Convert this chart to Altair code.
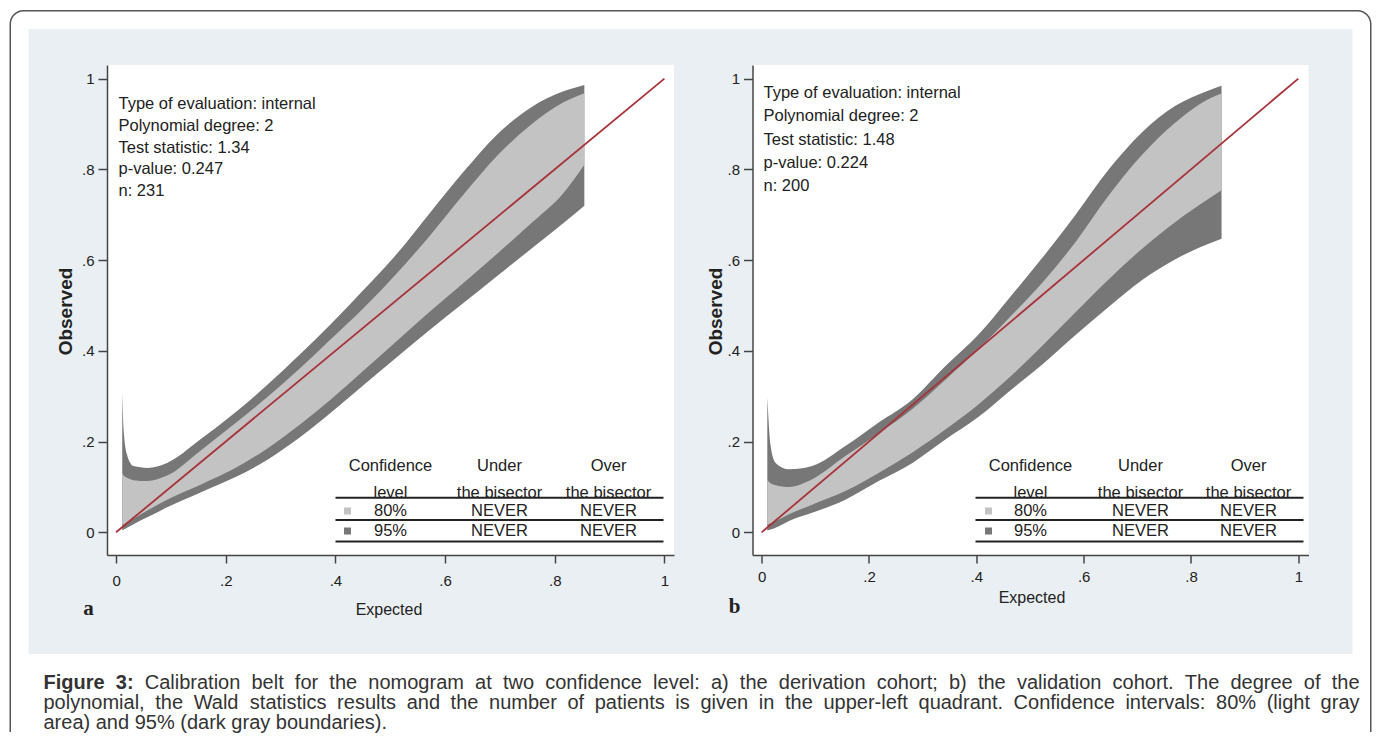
import altair as alt
import pandas as pd

# ---------------------------------------------------------------- data
# panel a (derivation cohort): calibration belt edges
X_A = [0.0113, 0.014, 0.020, 0.032, 0.057, 0.093, 0.154, 0.215, 0.276, 0.336,
       0.391, 0.452, 0.513, 0.573, 0.634, 0.695, 0.756, 0.816, 0.854]
U95_A = [0.307, 0.223, 0.171, 0.146, 0.142, 0.153, 0.205, 0.262, 0.325, 0.393,
         0.458, 0.535, 0.615, 0.705, 0.795, 0.877, 0.936, 0.972, 0.986]
U80_A = [0.130, 0.125, 0.120, 0.115, 0.113, 0.125, 0.180, 0.238, 0.298, 0.362,
         0.425, 0.495, 0.572, 0.655, 0.745, 0.830, 0.898, 0.948, 0.968]
L80_A = [0.017, 0.018, 0.022, 0.030, 0.048, 0.072, 0.105, 0.140, 0.185, 0.238,
         0.292, 0.357, 0.423, 0.487, 0.550, 0.614, 0.680, 0.748, 0.810]
L95_A = [0.004, 0.006, 0.010, 0.018, 0.033, 0.055, 0.088, 0.120, 0.160, 0.210,
         0.263, 0.325, 0.387, 0.447, 0.506, 0.565, 0.624, 0.682, 0.720]

# panel b (validation cohort)
X_B = [0.0106, 0.0168, 0.026, 0.051, 0.094, 0.156, 0.218, 0.281, 0.343, 0.405,
       0.4605, 0.523, 0.585, 0.647, 0.709, 0.771, 0.833, 0.857]
U95_B = [0.297, 0.190, 0.153, 0.139, 0.146, 0.190, 0.242, 0.293, 0.367, 0.437,
         0.515, 0.605, 0.700, 0.800, 0.882, 0.940, 0.974, 0.984]
U80_B = [0.115, 0.108, 0.104, 0.100, 0.117, 0.168, 0.218, 0.272, 0.337, 0.405,
         0.472, 0.550, 0.640, 0.743, 0.832, 0.903, 0.955, 0.967]
L80_B = [0.017, 0.020, 0.025, 0.040, 0.061, 0.091, 0.131, 0.176, 0.227, 0.283,
         0.340, 0.411, 0.485, 0.558, 0.625, 0.684, 0.735, 0.754]
L95_B = [0.004, 0.006, 0.010, 0.025, 0.043, 0.072, 0.113, 0.153, 0.205, 0.255,
         0.310, 0.370, 0.435, 0.497, 0.556, 0.602, 0.636, 0.647]

DIAG_X = [0.0, 1.0]
DIAG_Y = [0.0, 1.0]

TICK_VALUES = [0, 0.2, 0.4, 0.6, 0.8, 1]
TICK_LABELS = ["0", ".2", ".4", ".6", ".8", "1"]

STATS_A = ["Type of evaluation: internal", "Polynomial degree: 2",
           "Test statistic: 1.34", "p-value: 0.247", "n: 231"]
STATS_B = ["Type of evaluation: internal", "Polynomial degree: 2",
           "Test statistic: 1.48", "p-value: 0.224", "n: 200"]

TABLE_HEAD = [["Confidence", "Under", "Over"],
              ["level", "the bisector", "the bisector"]]
TABLE_ROWS = [["80%", "NEVER", "NEVER"],
              ["95%", "NEVER", "NEVER"]]

PANEL_LETTERS = ["a", "b"]
X_TITLE = "Expected"
Y_TITLE = "Observed"

CAPTION_BOLD = "Figure 3:"
CAPTION_LINES = [
    "Calibration belt for the nomogram at two confidence level: a) the derivation cohort; b) the validation cohort. The degree of the",
    "polynomial, the Wald statistics results and the number of patients is given in the upper-left quadrant. Confidence intervals: 80% (light gray",
    "area) and 95% (dark gray boundaries).",
]

# ---------------------------------------------------------------- style
SANS = "Liberation Sans"
SERIF = "Liberation Serif"
LIGHT = "#c3c3c3"
DARK = "#777777"
RED = "#a8323a"
INK = "#222222"
PAGE_BG = "#e9eff2"
YDOM = [-0.05, 1.03]
PLOT_H = 490

# Arial / Liberation Sans advance widths (1/1000 em) for justified caption
REG = dict(zip(" !%(),-.:;", [278, 278, 889, 333, 333, 278, 333, 278, 278, 278]))
REG.update({d: 556 for d in "0123456789"})
REG.update(dict(zip("ABCDEFGHIJKLMNOPQRSTUVWXYZ",
                    [667, 667, 722, 722, 667, 611, 778, 722, 278, 500, 667, 556, 833,
                     722, 778, 667, 778, 722, 667, 611, 722, 667, 944, 667, 667, 611])))
REG.update(dict(zip("abcdefghijklmnopqrstuvwxyz",
                    [556, 556, 500, 556, 556, 278, 556, 556, 222, 222, 500, 222, 833,
                     556, 556, 556, 556, 333, 500, 278, 556, 500, 722, 500, 500, 500])))
BOLD = {"F": 611, "i": 278, "g": 611, "u": 611, "r": 389, "e": 556, "3": 556, ":": 333, " ": 278}

ONE = pd.DataFrame({"k": [0]})


def label_expr():
    parts = [f"datum.value == {v} ? '{l}'" for v, l in zip(TICK_VALUES, TICK_LABELS)]
    return " : ".join(parts) + " : ''"


def rect(x, x2, y, y2, color, **kw):
    return alt.Chart(ONE).mark_rect(color=color, **kw).encode(
        x=alt.value(x), x2=alt.value(x2), y=alt.value(y), y2=alt.value(y2))


def make_panel(p):
    xs = alt.Scale(domain=p["xdom"], nice=False, zero=False)
    ys = alt.Scale(domain=YDOM, nice=False, zero=False)
    ax_x = alt.Axis(values=TICK_VALUES, labelExpr=label_expr(), grid=False, zindex=2,
                    domainColor="#444", domainWidth=1.5, tickColor="#444", tickWidth=1.5,
                    tickSize=8, labelPadding=p["xlabpad"], labelFont=SANS, labelFontSize=15,
                    labelColor=INK, labelFlush=False, title=X_TITLE, titleFont=SANS,
                    titleFontSize=16, titleFontWeight="normal", titleColor=INK,
                    titleX=p["xtitle"][0], titleY=p["xtitle"][1], titleAlign="center",
                    titleBaseline="middle")
    ax_y = alt.Axis(values=TICK_VALUES, labelExpr=label_expr(), grid=False, zindex=2,
                    domainColor="#444", domainWidth=1.5, tickColor="#444", tickWidth=1.5,
                    tickSize=9, labelPadding=4, labelFont=SANS, labelFontSize=15,
                    labelColor=INK, labelAngle=0, labelFlush=False, title=Y_TITLE,
                    titleFont=SANS, titleFontSize=19, titleFontWeight="bold",
                    titleColor=INK, titleAngle=270, titleX=p["ytitle"][0],
                    titleY=p["ytitle"][1], titleAlign="center", titleBaseline="middle")

    band = pd.DataFrame({"x": p["x"], "l95": p["l95"], "u95": p["u95"],
                         "l80": p["l80"], "u80": p["u80"]})
    diag = pd.DataFrame({"x": DIAG_X, "y": DIAG_Y})

    base = alt.Chart(band)
    a95 = base.mark_area(color=DARK, interpolate="monotone", opacity=1).encode(
        x=alt.X("x:Q", scale=xs, axis=ax_x),
        y=alt.Y("l95:Q", scale=ys, axis=ax_y), y2="u95:Q")
    a80 = base.mark_area(color=LIGHT, interpolate="monotone", opacity=1).encode(
        x=alt.X("x:Q", scale=xs, axis=ax_x),
        y=alt.Y("l80:Q", scale=ys, axis=ax_y), y2="u80:Q")
    line = alt.Chart(diag).mark_line(color=RED, strokeWidth=1.8).encode(
        x=alt.X("x:Q", scale=xs, axis=ax_x),
        y=alt.Y("y:Q", scale=ys, axis=ax_y))

    # stats text in the upper-left corner
    sdf = pd.DataFrame({"t": p["stats"],
                        "py": [p["stat_y"][0] + i * p["stat_y"][1] for i in range(len(p["stats"]))]})
    stats = alt.Chart(sdf).mark_text(align="left", baseline="middle", font=SANS,
                                     fontSize=16.5, color=INK).encode(
        x=alt.value(p["stat_x"]), y=alt.Y("py:Q", scale=None, axis=None), text="t:N")

    # legend table
    cols, ry = p["cols"], p["rows_y"]
    trows = []
    for r, vals in enumerate(TABLE_HEAD + TABLE_ROWS):
        for c, v in enumerate(vals):
            trows.append({"t": v, "px": cols[c], "py": ry[r]})
    ttext = alt.Chart(pd.DataFrame(trows)).mark_text(
        align="center", baseline="middle", font=SANS, fontSize=16.5, color=INK).encode(
        x=alt.X("px:Q", scale=None, axis=None), y=alt.Y("py:Q", scale=None, axis=None),
        text="t:N")
    rules = alt.Chart(pd.DataFrame({"py": p["rules_y"]})).mark_rule(
        color=INK, strokeWidth=2).encode(
        x=alt.value(p["rule_x"][0]), x2=alt.value(p["rule_x"][1]),
        y=alt.Y("py:Q", scale=None, axis=None))
    squares = alt.Chart(pd.DataFrame({"py": ry[2:], "c": [LIGHT, DARK]})).mark_square(
        size=49, opacity=1).encode(
        x=alt.value(p["sq_x"]), y=alt.Y("py:Q", scale=None, axis=None),
        color=alt.Color("c:N", scale=None))

    letter = alt.Chart(ONE).mark_text(align="center", baseline="middle", font=SERIF,
                                      fontSize=21, fontWeight="bold", color=INK,
                                      text=p["letter"]).encode(
        x=alt.value(p["letter_xy"][0]), y=alt.value(p["letter_xy"][1]))

    plotbg = rect(0, p["w"], 0, PLOT_H, "white")
    layers = p["under"] + [plotbg, a95, a80, line, stats, rules, ttext, squares, letter] + p["over"]
    return alt.layer(*layers).properties(width=p["w"], height=PLOT_H)


# ------------------------------------------------ page decoration (panel a coords)
OX, OY = 106.5, 64.0  # screen position of panel a's plot area


def sx(v):
    return v - OX


def sy(v):
    return v - OY


decor = [
    rect(sx(9), sx(1371), sy(9), sy(731), "#555555",
         cornerRadiusTopLeft=14, cornerRadiusTopRight=14),
    rect(sx(10.5), sx(1369.5), sy(10.5), sy(731), "white",
         cornerRadiusTopLeft=12.5, cornerRadiusTopRight=12.5),
    rect(sx(28), sx(1352), sy(28), sy(653), PAGE_BG),
]

# justified caption
FS_CAP = 20
CAP_LEFT, CAP_RIGHT = sx(43), sx(1359)
CAP_Y0, CAP_PITCH = sy(688), 20


def wlen(word, bold):
    tab = BOLD if bold else REG
    return sum(tab.get(ch, 556) for ch in word) * FS_CAP / 1000.0


cap_words = [[(w, True) for w in CAPTION_BOLD.split()] + [(w, False) for w in CAPTION_LINES[0].split()]]
cap_words += [[(w, False) for w in ln.split()] for ln in CAPTION_LINES[1:]]
cap_rows = []
for li, words in enumerate(cap_words):
    widths = [wlen(w, b) for w, b in words]
    if li < len(cap_words) - 1:
        gap = (CAP_RIGHT - CAP_LEFT - sum(widths)) / (len(words) - 1)
    else:
        gap = REG[" "] * FS_CAP / 1000.0
    xpos = CAP_LEFT
    for (w, b), wd in zip(words, widths):
        cap_rows.append({"word": w, "bold": b, "px": xpos, "py": CAP_Y0 + li * CAP_PITCH})
        xpos += wd + gap
cap_df = pd.DataFrame(cap_rows)
cap_reg = alt.Chart(cap_df[~cap_df["bold"]]).mark_text(
    align="left", baseline="alphabetic", font=SANS, fontSize=FS_CAP, color="#333333").encode(
    x=alt.X("px:Q", scale=None, axis=None), y=alt.Y("py:Q", scale=None, axis=None), text="word:N")
cap_bold = alt.Chart(cap_df[cap_df["bold"]]).mark_text(
    align="left", baseline="alphabetic", font=SANS, fontSize=FS_CAP, fontWeight="bold",
    color="#333333").encode(
    x=alt.X("px:Q", scale=None, axis=None), y=alt.Y("py:Q", scale=None, axis=None), text="word:N")

# ---------------------------------------------------------------- panels
panel_a = make_panel(dict(
    x=X_A, u95=U95_A, u80=U80_A, l80=L80_A, l95=L95_A,
    xdom=[-0.0165, 1.0175], w=567, xlabpad=10,
    xtitle=(281.5, 54), ytitle=(-41.5, 246),
    stats=STATS_A, stat_x=11.5, stat_y=(39, 21.8),
    cols=[283.5, 392.5, 501.5], rows_y=[401, 427.7, 446, 466],
    rules_y=[432.7, 455, 476.5], rule_x=(228.5, 556.5), sq_x=240.5,
    letter=PANEL_LETTERS[0], letter_xy=(-18.5, 544),
    under=decor, over=[cap_reg, cap_bold]))

panel_b = make_panel(dict(
    x=X_B, u95=U95_B, u80=U80_B, l80=L80_B, l95=L95_B,
    xdom=[-0.017, 1.019], w=556, xlabpad=6,
    xtitle=(279, 42), ytitle=(-37, 246),
    stats=STATS_B, stat_x=11, stat_y=(28, 23.3),
    cols=[278, 388, 496], rows_y=[401, 427.7, 446, 466],
    rules_y=[432.7, 455, 476.5], rule_x=(223, 551), sq_x=236,
    letter=PANEL_LETTERS[1], letter_xy=(-18, 542),
    under=[], over=[]))

chart = alt.hconcat(panel_a, panel_b, spacing=78.5, bounds="flush").properties(
    padding={"left": 1, "top": 1, "right": 0, "bottom": 0}
).configure(background="white").configure_view(stroke="transparent")

chart.save("out.html", embed_options={"renderer": "svg", "actions": False})
